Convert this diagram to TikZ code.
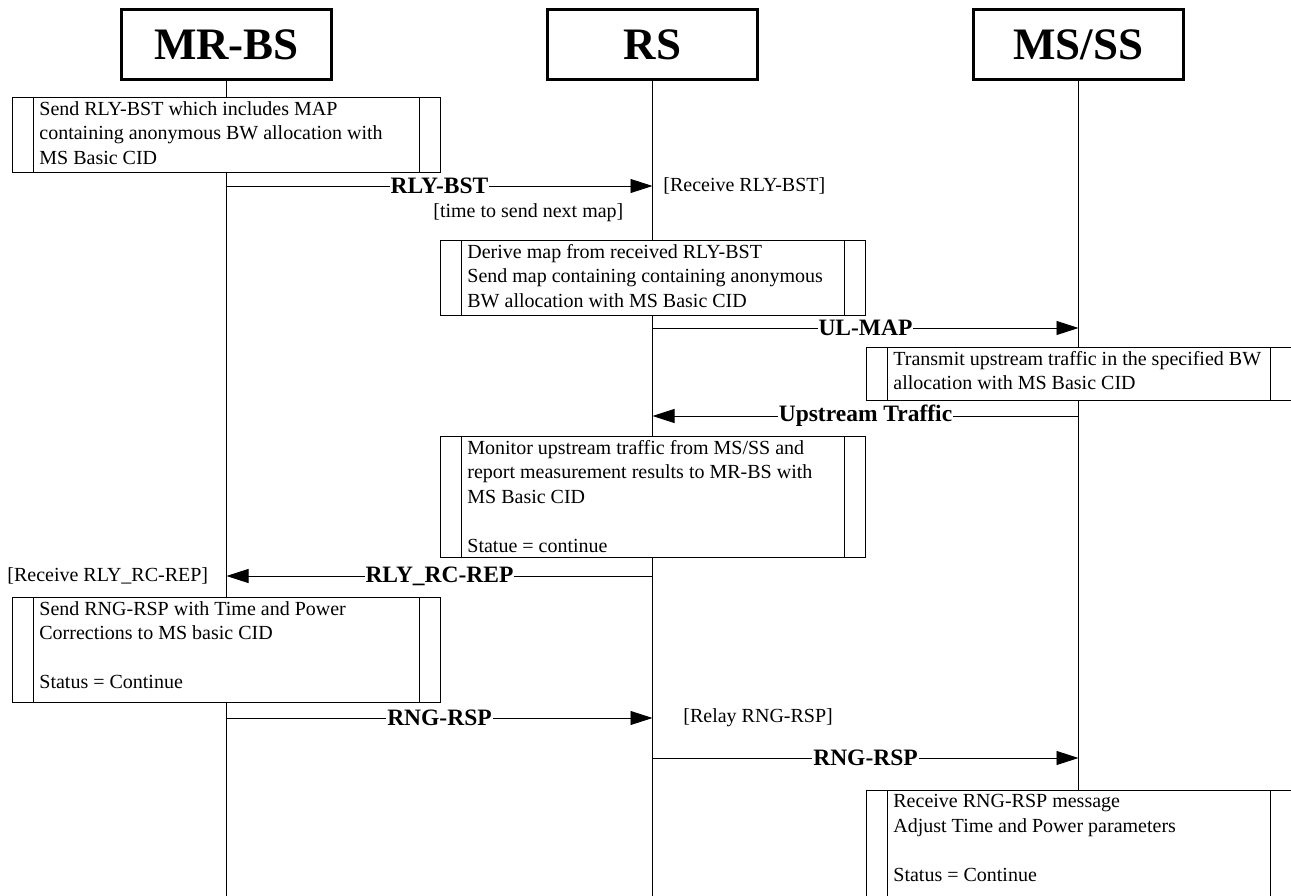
\documentclass[tikz,border=0pt]{standalone}
\usepackage{fontspec}
\setmainfont{Liberation Serif}
\usetikzlibrary{arrows.meta}
\def\procbox(#1,#2)(#3,#4)#5#6{%
  \draw[fill=white] (#1,#2) rectangle (#3,#4);
  \draw (#1+21,#2) -- (#1+21,#4) (#3-21,#2) -- (#3-21,#4);
  \node[proctext] (#5) at (#1+27,#2+4) {#6};}

\begin{document}
\begin{tikzpicture}[x=1pt, y=-1pt, line width=0.8pt,
  actor/.style={draw, fill=white, line width=3.5pt, minimum width=210pt, minimum height=70pt,
    font=\fontsize{45}{50}\selectfont\bfseries},
  proctext/.style={anchor=north west, align=left, inner sep=0pt, font=\fontsize{20}{24.5}\selectfont},
  msg/.style={-{Triangle[length=22pt,width=14pt]}},
  lbl/.style={fill=white, inner sep=1pt, font=\fontsize{23.5}{26}\selectfont\bfseries},
  cond/.style={inner sep=0pt, font=\fontsize{20}{24}\selectfont}]
		%%%%% START %%%%%
		\useasboundingbox[fill=white] (0,0) rectangle (1291,896);
		
		\node[actor] (bs) at (226.5,44.5) {MR-BS};
		\node[actor] (rs) at (652.5,44.5) {RS};
		\node[actor] (ms) at (1078.5,44.5) {MS/SS};
		
		\draw (bs.south) -- (bs |- 0,896);
		\draw (rs.south) -- (rs |- 0,896);
		\draw (ms.south) -- (ms |- 0,896);
		
		\procbox(12,97)(440,172){p1}{Send RLY-BST which includes MAP\\containing anonymous BW allocation with\\MS Basic CID}
		\draw[msg] (bs |- 0,186) -- node[lbl] (rlybst) {RLY-BST} (rs |- 0,186);
		\node[cond, anchor=west] (recvbst) at (663,186) {[Receive RLY-BST]};
		\node[cond, anchor=west] (nextmap) at (433,213) {[time to send next map]};
		
		\procbox(440,240)(865,315){p2}{Derive map from received RLY-BST\\Send map containing containing anonymous\\BW allocation with MS Basic CID}
		\draw[msg] (rs |- 0,328) -- node[lbl] (ulmap) {UL-MAP} (ms |- 0,328);
		
		\procbox(866,347)(1291,400){p3}{Transmit upstream traffic in the specified BW\\allocation with MS Basic CID}
		\draw[msg] (ms |- 0,416) -- node[lbl] (uptraffic) {Upstream Traffic} (rs |- 0,416);
		
		\procbox(440,436)(865,557){p4}{Monitor upstream traffic from MS/SS and\\report measurement results to MR-BS with\\MS Basic CID\\[24.5pt]Statue = continue}
		\draw[msg] (rs |- 0,576) -- node[lbl] (rcrep) {RLY\_RC-REP} (bs |- 0,576);
		\node[cond, anchor=west] (recvrep) at (7,576) {[Receive RLY\_RC-REP]};
		
		\procbox(12,597)(440,702){p5}{Send RNG-RSP with Time and Power\\Corrections to MS basic CID\\[24.5pt]Status = Continue}
		\draw[msg] (bs |- 0,718) -- node[lbl] (rngrsp) {RNG-RSP} (rs |- 0,718);
		\node[cond, anchor=west] (relayrsp) at (683,718) {[Relay RNG-RSP]};
		
		\draw[msg] (rs |- 0,758) -- node[lbl] (rngrelay) {RNG-RSP} (ms |- 0,758);
		
		\procbox(866,790)(1291,905){p6}{Receive RNG-RSP message\\Adjust Time and Power parameters\\[24.5pt]Status = Continue}
		%%%%% END %%%%%
	\end{tikzpicture}
\end{document}
